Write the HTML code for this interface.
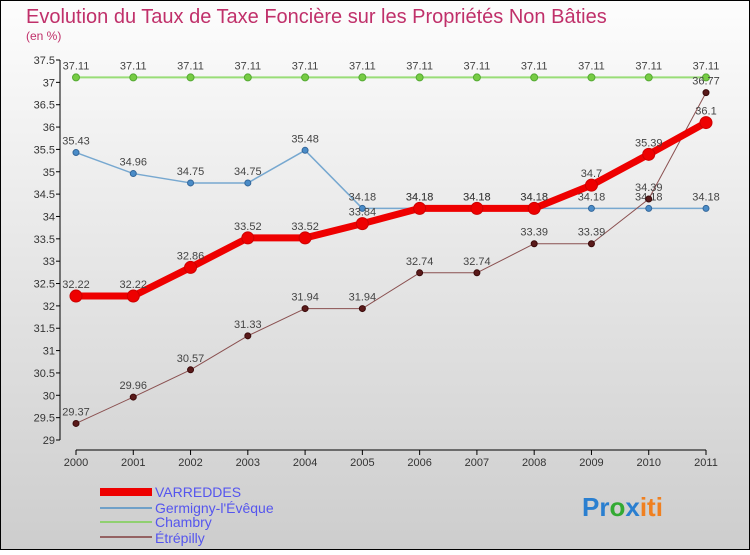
<!DOCTYPE html>
<html><head><meta charset="utf-8"><style>
body{margin:0;}
#c{width:750px;height:550px;position:relative;font-family:"Liberation Sans",sans-serif;}
svg text{font-family:"Liberation Sans",sans-serif;}
</style></head><body>
<div id="c">
<svg id="s" width="750" height="550" xmlns="http://www.w3.org/2000/svg">
<defs><linearGradient id="bg" x1="0" y1="0" x2="0" y2="1"><stop offset="0" stop-color="#fdfdfd"/><stop offset="1" stop-color="#cdcdcd"/></linearGradient></defs>
<rect x="0.5" y="0.5" width="749" height="549" fill="url(#bg)" stroke="#000"/>
<text x="26" y="23" font-size="20" fill="#c0306a">Evolution du Taux de Taxe Foncière sur les Propriétés Non Bâties</text>
<text x="26" y="40" font-size="12" fill="#c0306a">(en %)</text>
<g id="axes"></g><g id="series"></g>
<g>
<rect x="100" y="488" width="52" height="8" fill="#e00"/>
<text x="155" y="497" font-size="14" fill="#5555ee">VARREDDES</text>
<line x1="100" y1="508" x2="152" y2="508" stroke="#6fa0c8" stroke-width="2"/>
<text x="155" y="513" font-size="14" fill="#5555ee">Germigny-l'Évêque</text>
<line x1="100" y1="522" x2="152" y2="522" stroke="#90d070" stroke-width="2"/>
<text x="155" y="527" font-size="14" fill="#5555ee">Chambry</text>
<line x1="100" y1="537" x2="152" y2="537" stroke="#946262" stroke-width="2"/>
<text x="155" y="543" font-size="14" fill="#5555ee">Étrépilly</text>
</g>
<text x="582" y="516" font-size="26" font-weight="bold"><tspan fill="#2a7fd0">Pr</tspan><tspan fill="#33aa33">o</tspan><tspan fill="#2a7fd0">x</tspan><tspan fill="#f08020">iti</tspan></text>
</svg></div>
<script>
const years=[2000,2001,2002,2003,2004,2005,2006,2007,2008,2009,2010,2011];
const yTicks=[29,29.5,30,30.5,31,31.5,32,32.5,33,33.5,34,34.5,35,35.5,36,36.5,37,37.5];
const varreddes=[32.22,32.22,32.86,33.52,33.52,33.84,34.18,34.18,34.18,34.7,35.39,36.1];
const germigny=[35.43,34.96,34.75,34.75,35.48,34.18,34.18,34.18,34.18,34.18,34.18,34.18];
const chambry=[37.11,37.11,37.11,37.11,37.11,37.11,37.11,37.11,37.11,37.11,37.11,37.11];
const etrepilly=[29.37,29.96,30.57,31.33,31.94,31.94,32.74,32.74,33.39,33.39,34.39,36.77];
const NS="http://www.w3.org/2000/svg";
const xS=i=>76+i*(630/11);
const yS=v=>440-(v-29)*(380/8.5);
function mk(t,a,p){const e=document.createElementNS(NS,t);for(const k in a)e.setAttribute(k,a[k]);p.appendChild(e);return e;}
const ax=document.getElementById('axes');
let yl=mk('line',{x1:60,y1:60,x2:60,y2:440,stroke:'#000'},ax);


let xl=mk('line',{x1:76,y1:450,x2:706,y2:450,stroke:'#000'},ax);


yTicks.forEach(v=>{const y=yS(v);mk('line',{x1:56,y1:y,x2:60,y2:y,stroke:'#000'},ax);
const t=mk('text',{x:55,y:y+4,'text-anchor':'end','font-size':11,fill:'#333'},ax);t.textContent=String(v);

});
years.forEach((yr,i)=>{const x=xS(i);mk('line',{x1:x,y1:450,x2:x,y2:455,stroke:'#000'},ax);
const t=mk('text',{x:x,y:466,'text-anchor':'middle','font-size':11,fill:'#333'},ax);t.textContent=yr;

});
const sg=document.getElementById('series');
function series(data,name,color,w,r,dot,dotStroke){
const g=mk('g',{},sg);


const pl=mk('polyline',{points:data.map((v,i)=>xS(i)+','+yS(v)).join(' '),fill:'none',stroke:color,'stroke-width':w,'stroke-linejoin':'round'},g);


data.forEach((v,i)=>{const c=mk('circle',{cx:xS(i),cy:yS(v),r:r,fill:dot,stroke:dotStroke,'stroke-width':1},g);


const t=mk('text',{x:xS(i),y:yS(v)-8,'text-anchor':'middle','font-size':11,fill:'#444'},g);t.textContent=String(v);

});}
series(chambry,'chambry','#99dd77',2,3.5,'#77cc44','#55aa33');
series(germigny,'germigny','#77a8d0',1.5,3,'#4a8cc8','#336699');
series(etrepilly,'etrepilly','#8a5050',1,3,'#5a1a1a','#3a0a0a');
series(varreddes,'varreddes','#ee0000',7,6,'#ee0000','#cc0000');
</script>
</body></html>
